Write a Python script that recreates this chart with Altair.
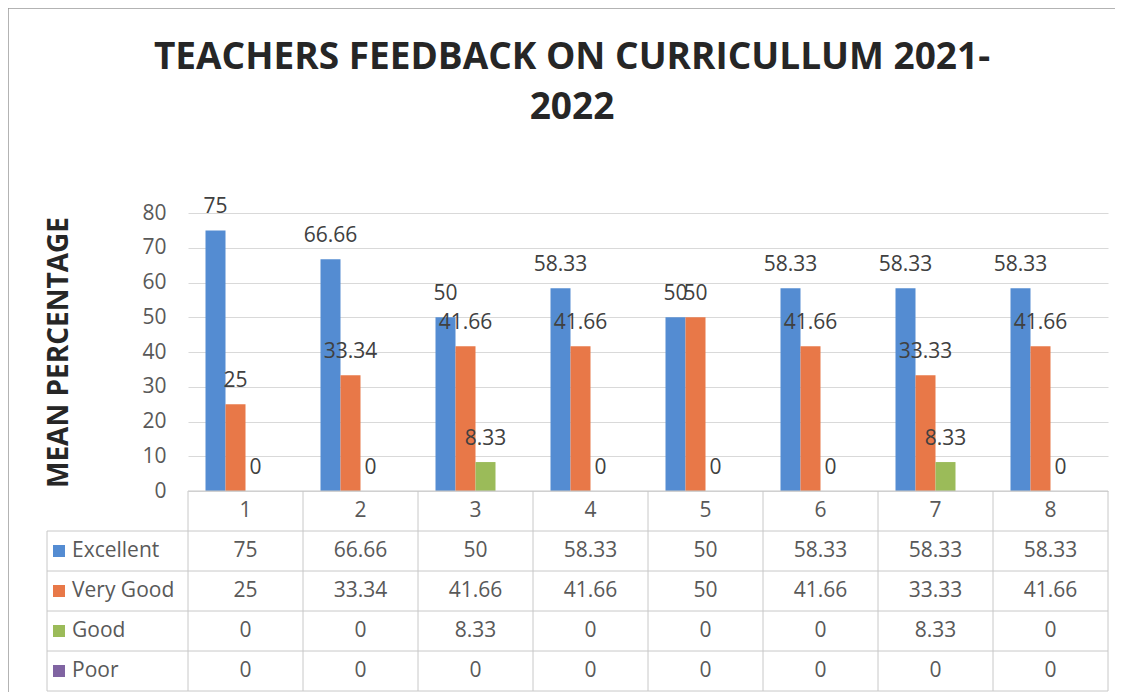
import altair as alt
import pandas as pd

categories = ["1", "2", "3", "4", "5", "6", "7", "8"]
series = ["Excellent", "Very Good", "Good", "Poor"]
excellent = [75, 66.66, 50, 58.33, 50, 58.33, 58.33, 58.33]
very_good = [25, 33.34, 41.66, 41.66, 50, 41.66, 33.33, 41.66]
good = [0, 0, 8.33, 0, 0, 0, 8.33, 0]
poor = [0, 0, 0, 0, 0, 0, 0, 0]
colors = ["#548CD2", "#E87848", "#9BBB59", "#8064A2"]
y_ticks = [0, 10, 20, 30, 40, 50, 60, 70, 80]
title_lines = ["TEACHERS FEEDBACK ON CURRICULLUM 2021-", "2022"]
y_title = "MEAN PERCENTAGE"

rows = []
for s, vals in zip(series, [excellent, very_good, good, poor]):
    for c, v in zip(categories, vals):
        rows.append({"cat": c, "series": s, "row": s, "value": v, "label": f"{v:g}"})
df = pd.DataFrame(rows)
hdr = pd.DataFrame({"cat": categories, "row": ["hdr"] * len(categories), "label": categories})
legend_df = pd.DataFrame({"row": series, "series": series})
one = pd.DataFrame({"k": [0]})

PLOT_H = 278
TABLE_TOP = 278
TABLE_BOT = 478
LINE = "#C8C8C8"
TXT = "#595959"
FONT = "Open Sans"
FS = 21

xscale = alt.Scale(domain=categories, paddingInner=0, paddingOuter=0)
yscale = alt.Scale(domain=[0, 80], nice=False, zero=True)
rowscale = alt.Scale(domain=["hdr"] + series, range=[TABLE_TOP, TABLE_BOT], paddingInner=0, paddingOuter=0)
cscale = alt.Scale(domain=series, range=colors)
offscale = alt.Scale(domain=series, paddingInner=0, paddingOuter=0.875)

bars = alt.Chart(df).mark_bar().encode(
    x=alt.X("cat:N", scale=xscale, axis=None),
    xOffset=alt.XOffset("series:N", scale=offscale),
    y=alt.Y("value:Q", scale=yscale,
            axis=alt.Axis(values=y_ticks, grid=True, gridColor="#D9D9D9", domain=False, ticks=False,
                          labelFontSize=FS, labelColor=TXT, labelFont=FONT, labelPadding=22,
                          title=y_title, titleFont=FONT, titleFontSize=28, titleFontWeight="bold",
                          titleColor="#262626", titlePadding=68)),
    color=alt.Color("series:N", scale=cscale, legend=None),
)

bar_labels = alt.Chart(df[df["series"] != "Poor"]).mark_text(
    dy=-17, baseline="alphabetic", fontSize=FS, font=FONT, color="#404040"
).encode(
    x=alt.X("cat:N", scale=xscale, axis=None),
    xOffset=alt.XOffset("series:N", scale=offscale),
    y=alt.Y("value:Q", scale=yscale, axis=None),
    text="label:N",
)

table_vals = alt.Chart(df).mark_text(fontSize=FS, font=FONT, color=TXT, baseline="middle").encode(
    x=alt.X("cat:N", scale=xscale, axis=None),
    y=alt.Y("row:N", scale=rowscale, axis=None),
    text="label:N",
)
table_hdr = alt.Chart(hdr).mark_text(fontSize=FS, font=FONT, color=TXT, baseline="middle").encode(
    x=alt.X("cat:N", scale=xscale, axis=None),
    y=alt.Y("row:N", scale=rowscale, axis=None),
    text="label:N",
)
legend_sq = alt.Chart(legend_df).mark_square(size=144, opacity=1).encode(
    x=alt.value(-129),
    y=alt.Y("row:N", scale=rowscale, axis=None),
    color=alt.Color("series:N", scale=cscale, legend=None),
)
legend_txt = alt.Chart(legend_df).mark_text(fontSize=FS, font=FONT, color=TXT, align="left", baseline="middle").encode(
    x=alt.value(-116),
    y=alt.Y("row:N", scale=rowscale, axis=None),
    text="row:N",
)

# table grid lines
vlines = alt.Chart(hdr).mark_rule(color=LINE, strokeWidth=1).encode(
    x=alt.X("cat:N", scale=xscale, axis=None, bandPosition=0),
    y=alt.value(TABLE_TOP), y2=alt.value(TABLE_BOT),
)
vline_end = alt.Chart(hdr[hdr["cat"] == categories[-1]]).mark_rule(color=LINE, strokeWidth=1).encode(
    x=alt.X("cat:N", scale=xscale, axis=None, bandPosition=1),
    y=alt.value(TABLE_TOP), y2=alt.value(TABLE_BOT),
)
vline_left = alt.Chart(one).mark_rule(color=LINE, strokeWidth=1).encode(
    x=alt.value(-141), y=alt.value(TABLE_TOP + 40), y2=alt.value(TABLE_BOT),
)
hlines = alt.Chart(legend_df).mark_rule(color=LINE, strokeWidth=1).encode(
    y=alt.Y("row:N", scale=rowscale, axis=None, bandPosition=0),
    x=alt.value(-141), x2=alt.value(920),
)
hline_end = alt.Chart(legend_df[legend_df["row"] == series[-1]]).mark_rule(color=LINE, strokeWidth=1).encode(
    y=alt.Y("row:N", scale=rowscale, axis=None, bandPosition=1),
    x=alt.value(-141), x2=alt.value(920),
)
hline_top = alt.Chart(one).mark_rule(color=LINE, strokeWidth=1).encode(
    y=alt.value(TABLE_TOP), x=alt.value(0), x2=alt.value(920),
)
# outer frame
frame_top = alt.Chart(one).mark_rule(color="#9A9A9A", strokeWidth=1.5).encode(
    y=alt.value(-205), x=alt.value(-180), x2=alt.value(927),
)
frame_left = alt.Chart(one).mark_rule(color="#9A9A9A", strokeWidth=1.5).encode(
    x=alt.value(-180), y=alt.value(-205), y2=alt.value(479),
)

chart = alt.layer(
    frame_top, frame_left,
    bars, bar_labels,
    vlines, vline_end, vline_left, hlines, hline_end, hline_top,
    table_vals, table_hdr, legend_sq, legend_txt,
).resolve_scale(y="independent").properties(
    width=920, height=PLOT_H,
    autosize=alt.AutoSizeParams(type="none"),
    padding={"left": 180, "top": 205, "right": 7, "bottom": 201},
    title=alt.TitleParams(text=title_lines, font=FONT, fontSize=37, fontWeight="bold", color="#262626",
                          anchor="middle", dx=-76, offset=-157, lineHeight=50, baseline="bottom"),
).configure_view(strokeWidth=0)

chart.save("out.html", embed_options={"renderer": "svg", "actions": False})
